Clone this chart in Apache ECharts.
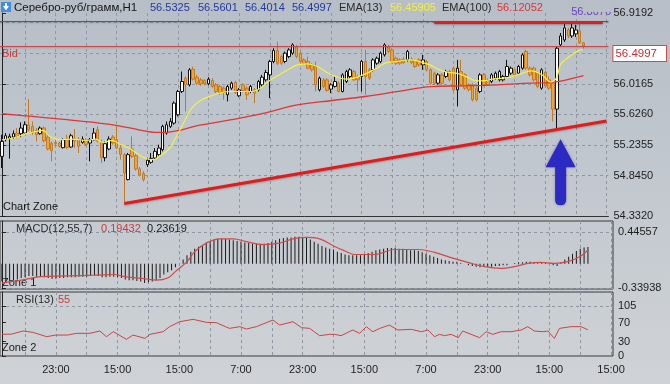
<!DOCTYPE html>
<html><head><meta charset="utf-8">
<script src="https://cdn.jsdelivr.net/npm/echarts@6/dist/echarts.min.js"></script>
<style>html,body{margin:0;padding:0;background:linear-gradient(#b7bec7,#cfd3d7);}#c{width:670px;height:384px;}</style>
</head><body><div id="c"></div><script>
// ---- data ----
const openP = [55.092,55.304,55.321,55.338,55.389,55.381,55.389,55.495,55.474,55.423,
55.381,55.453,55.338,55.254,55.270,55.262,55.203,55.313,55.211,55.321,
55.304,55.270,55.304,55.262,55.304,55.432,55.270,55.075,55.186,55.338,
55.304,55.198,55.114,54.796,55.186,55.101,54.931,54.872,54.986,55.016,
55.071,55.113,55.177,55.389,55.474,55.516,55.622,55.919,56.089,56.004,
56.203,56.101,56.067,56.059,56.017,56.059,56.004,55.983,55.961,55.877,
55.961,56.034,55.864,56.004,55.961,55.919,55.940,55.940,56.004,56.067,
56.131,56.301,56.441,56.364,56.301,56.364,56.407,56.491,56.407,56.322,
56.301,56.258,56.237,55.940,56.067,56.067,55.949,55.983,56.025,55.919,
56.046,56.110,56.173,56.110,56.110,56.301,56.195,56.195,56.279,56.301,
56.386,56.491,56.449,56.343,56.322,56.331,56.322,56.331,56.313,56.322,
56.258,56.301,56.195,56.152,56.025,56.131,56.110,56.173,56.216,55.940,
56.173,56.131,56.004,56.004,55.961,55.919,56.131,56.067,56.046,56.089,
56.067,56.067,56.110,56.152,56.195,56.152,56.216,56.428,56.216,56.216,
56.152,55.961,56.161,56.067,56.025,55.694,56.513,56.576,56.703,56.627,
56.653,56.691,56.538];
const closeP = [55.283,55.355,55.347,55.381,55.347,55.453,55.495,55.432,55.398,55.368,
55.453,55.292,55.186,55.165,55.254,55.220,55.304,55.207,55.355,55.287,
55.220,55.313,55.245,55.304,55.389,55.287,55.075,55.254,55.313,55.262,
55.198,55.118,54.880,55.114,55.092,54.931,54.859,54.796,55.042,55.067,
55.156,55.198,55.474,55.495,55.537,55.771,55.919,56.046,56.004,56.195,
56.076,56.025,56.017,56.017,56.076,55.983,55.919,55.906,55.906,55.983,
56.025,55.906,55.940,55.932,55.877,55.983,55.898,56.046,56.101,56.161,
56.301,56.441,56.279,56.279,56.407,56.449,56.513,56.364,56.301,56.279,
56.216,56.195,56.004,56.089,55.983,55.932,56.004,56.046,55.919,56.131,
56.173,56.195,56.067,56.067,56.301,56.110,56.089,56.322,56.343,56.407,
56.513,56.428,56.301,56.279,56.279,56.288,56.428,56.288,56.237,56.258,
56.322,56.195,56.025,56.025,56.131,56.025,56.173,56.067,55.940,56.216,
56.004,55.961,55.940,55.813,55.813,56.131,56.004,56.004,56.131,56.152,
56.173,56.110,56.237,56.216,56.131,56.237,56.385,56.216,56.131,56.067,
55.983,56.195,55.991,55.961,55.694,56.470,56.627,56.729,56.627,56.729,
56.703,56.538,56.4997];
const lowP = [54.944,55.283,55.063,55.313,55.321,55.338,55.381,55.410,55.368,55.283,
55.368,55.270,55.169,55.029,55.228,55.203,55.194,55.186,55.203,55.198,
55.135,55.254,55.228,55.029,55.296,55.270,55.008,55.029,55.169,55.241,
55.186,55.050,54.490,54.787,55.071,54.910,54.838,54.770,54.957,54.999,
55.050,55.092,55.156,55.368,55.453,55.495,55.601,55.898,55.665,55.983,
56.059,56.004,55.991,56.000,56.000,55.966,55.898,55.877,55.813,55.792,
55.940,55.889,55.847,55.906,55.813,55.898,55.771,55.919,55.983,56.046,
55.834,56.279,56.258,56.258,56.279,56.343,56.386,56.343,56.279,56.258,
56.203,56.173,55.919,55.919,55.961,55.919,55.898,55.970,55.906,55.906,
56.025,56.089,56.055,55.919,55.919,55.877,56.067,56.173,56.258,56.279,
56.364,56.407,56.279,56.258,56.258,56.271,56.301,56.271,56.216,56.237,
56.195,56.173,56.004,56.004,56.004,56.004,56.089,56.046,55.919,55.728,
55.983,55.940,55.919,55.792,55.792,55.898,55.983,55.991,56.025,56.067,
56.046,56.046,56.089,56.131,56.110,56.131,56.195,56.195,56.110,56.046,
55.961,55.940,55.974,55.940,55.537,55.453,56.487,56.551,56.602,56.602,
56.614,56.525,56.449];
const highP = [55.368,55.389,55.381,55.423,55.453,55.525,55.538,55.822,55.538,55.453,
55.474,55.474,55.381,55.283,55.313,55.279,55.321,55.368,55.381,55.440,
55.338,55.347,55.321,55.326,55.453,55.474,55.304,55.283,55.347,55.364,
55.482,55.228,55.135,55.135,55.347,55.126,54.957,54.902,55.071,55.135,
55.198,55.241,55.495,55.537,55.580,55.792,55.940,56.173,56.110,56.216,
56.237,56.131,56.089,56.076,56.101,56.089,56.025,56.004,55.983,56.004,
56.046,56.055,55.961,56.025,55.983,56.004,55.961,56.067,56.131,56.195,
56.322,56.470,56.555,56.386,56.428,56.470,56.534,56.513,56.428,56.343,
56.364,56.279,56.301,56.110,56.089,56.089,56.025,56.110,56.046,56.152,
56.195,56.216,56.195,56.131,56.322,56.449,56.216,56.343,56.364,56.428,
56.534,56.513,56.470,56.364,56.343,56.356,56.449,56.356,56.331,56.343,
56.386,56.322,56.216,56.173,56.152,56.152,56.195,56.195,56.237,56.322,
56.322,56.152,56.025,56.025,55.983,56.152,56.152,56.089,56.152,56.173,
56.195,56.131,56.322,56.237,56.216,56.258,56.407,56.449,56.237,56.237,
56.173,56.216,56.182,56.110,56.046,56.491,56.665,56.805,56.729,56.780,
56.767,56.805,56.551];
const ema13 = [[0,55.304],[3,55.326],[6.4,55.381],[9,55.41],[10.7,55.423],[12.5,55.346],[15,55.304],[18.5,55.313],[22,55.295],[24.5,55.313],[26.3,55.27],[28.9,55.295],[30.6,55.253],[33.2,55.199],[35.8,55.113],[37.9,55.062],[39.7,55.05],[41,55.092],[43.5,55.177],[46.1,55.389],[47.9,55.559],[49.6,55.707],[52.2,55.813],[54.8,55.864],[57.4,55.906],[60,55.919],[62.5,55.919],[65.1,55.919],[66.9,55.94],[68.6,56.004],[70.3,56.067],[72.9,56.144],[75.5,56.216],[77.5,56.262],[79.8,56.271],[82.4,56.237],[85,56.16],[87.6,56.102],[90.2,56.076],[92.8,56.102],[95.4,56.153],[97.9,56.216],[100.5,56.287],[103.1,56.3],[106.6,56.322],[109.2,56.3],[111.8,56.258],[114.4,56.195],[117,56.16],[118.7,56.153],[121.3,56.109],[123.9,56.058],[125.6,56.055],[128.2,56.076],[130.8,56.089],[133.4,56.109],[136,56.153],[138.5,56.182],[141.1,56.131],[143.5,56.04],[145,56.1],[145.9,56.258],[147.2,56.322],[148.9,56.385],[150.6,56.44],[152,56.459]];
const ema100 = [[0,55.635],[8,55.601],[17,55.559],[25.4,55.517],[30.6,55.482],[35.8,55.431],[40.1,55.397],[42.7,55.397],[47,55.431],[51.3,55.486],[60,55.559],[68.6,55.644],[77.2,55.749],[86.3,55.804],[94.9,55.855],[103.6,55.919],[112.2,55.982],[120.8,55.991],[129.5,56.004],[138.1,56.025],[143.3,56.033],[146.7,56.058],[152,56.121]];
const macdHist = [-0.25,-0.25,-0.24,-0.23,
-0.22,-0.2,-0.19,-0.17,-0.17,-0.18,-0.18,
-0.19,-0.2,-0.21,-0.21,-0.2,-0.2,-0.19,-0.19,-0.19,-0.18,
-0.18,-0.18,-0.17,-0.16,-0.17,-0.19,-0.19,-0.18,
-0.18,-0.19,-0.2,-0.22,-0.23,-0.23,-0.24,-0.25,-0.27,-0.26,
-0.25,-0.23,-0.2,-0.15,-0.12,-0.09,-0.05,
0.0,0.06,0.12,0.17,0.21,0.24,0.26,
0.3,0.32,0.34,0.35,0.35,0.35,0.34,0.33,
0.32,0.31,0.3,0.29,0.28,0.28,0.28,0.28,0.29,0.31,
0.33,0.35,0.36,0.37,0.37,0.38,0.38,0.37,0.36,0.34,
0.31,0.28,0.25,0.23,0.21,
0.2,0.17,0.15,0.13,
0.12,0.12,0.12,0.12,0.13,0.15,0.17,0.19,
0.2,0.21,0.22,0.22,0.22,0.21,0.21,0.2,0.19,0.19,
0.18,0.16,0.14,0.12,0.1,0.08,0.06,0.05,0.04,
0.03,0.03,0.01,0.0,-0.02,-0.03,
-0.04,-0.05,-0.04,-0.04,-0.04,-0.03,-0.03,-0.02,-0.02,0.0,0.01,
0.02,0.02,0.03,0.03,0.02,0.02,0.01,0.01,0.0,-0.02,
-0.03,0.02,0.06,0.1,0.14,0.18,0.21,0.23,0.236];
const macdSignal = [[0,-0.27],[5,-0.23],[10,-0.18],[17,-0.17],[24,-0.16],[29,-0.15],[32,-0.18],[37,-0.21],[40,-0.23],[43,-0.2],[45,-0.11],[48,0.03],[50,0.17],[53,0.29],[56.5,0.35],[60,0.35],[63.4,0.31],[67.7,0.27],[72,0.29],[75.5,0.35],[79,0.37],[82.4,0.35],[86,0.25],[89,0.18],[91.5,0.13],[96.7,0.13],[101.8,0.2],[107.9,0.2],[112.2,0.16],[116.5,0.086],[120.8,0.02],[125.2,-0.04],[129.5,-0.064],[132.9,-0.04],[136.4,0.006],[139.8,0.02],[143.3,0.006],[146.7,0.03],[150.2,0.11],[152,0.194]];
const rsi = [[0,45.5],[2.5,46],[5.5,52.5],[8,49.7],[11.6,40.6],[14,44],[17,44],[19.4,47.6],[22.8,47.6],[25.4,52.5],[27.1,40.6],[28.9,51],[32.3,35],[34,44],[37.1,37],[38.4,45.5],[41.8,51],[43.5,61.6],[46.1,72],[49.6,77],[53,70.7],[55.6,70],[59,58],[61.7,61.6],[63.4,56.7],[66,61.6],[70.3,75.6],[72,65],[75.5,72],[77.7,59.5],[79.8,58],[82.4,42.7],[85,45.5],[86.3,45.5],[88,42.7],[91,54.6],[92.8,47.6],[94.5,61.6],[96.2,51],[98,58],[100.5,65],[102.7,54.6],[106.2,56],[108.8,51],[110.5,54.6],[112.2,40.6],[113.5,45.5],[114.8,42.7],[116.5,45.5],[118.4,38.5],[119.5,52.5],[121.7,45.5],[123.9,38.5],[125.6,51],[127.3,45.5],[129.5,51],[132,51],[134.7,54.6],[136.4,61.6],[138.1,52.5],[140.3,51],[141.6,52.5],[143.3,37],[144.6,58],[147.6,61.6],[150.2,61.6],[152,55]];
const timeLabels = ['23:00','15:00','15:00','7:00','23:00','15:00','7:00','23:00','15:00','15:00'];
const labelBars = [14,30,46,62,78,94,110,126,142,158];
const priceLabels = [54.332,54.845,55.2355,55.626,56.0165,56.9192];
const priceGrid = [54.845,55.2355,55.626,56.0165,56.407,56.7975];
const macdLabels = [-0.33938,0.44557];
const rsiLabels = [0,30,70,105];
const bidPrice = 56.4997, askLevel = 56.8076;
const trendLine = [[32,54.49],[158,55.542]];
const resistLine = [[113,56.8076],[157,56.8076]];
const arrowAt = [146,54.89];
const header = {symbol:'Серебро-руб/грамм,H1', ohlc:['56.5325','56.5601','56.4014','56.4997'], ema13:'56.45905', ema100:'56.12052', macd:['0.19432','0.23619'], rsi:'55'};

// ---- chart ----
const NB = 159;
const cats = Array.from({length:NB},(_,i)=>String(i));
const gridBars = []; labelBars.forEach(b=>{gridBars.push(b-8, b);});
const F = 'Liberation Sans';
const dash = {show:true, lineStyle:{type:[3,3], color:'#8e97a2', width:1}};
const hid = {show:false};
function valX(g, labels){
  return {type:'value', gridIndex:g, min:-0.5, max:NB-0.5, axisLine:hid,
    axisTick:{show:false, customValues:gridBars},
    axisLabel: labels ? {customValues:labelBars, formatter:v=>timeLabels[labelBars.indexOf(Math.round(v))]||'', color:'#1e1e1e', fontSize:11, fontFamily:F, margin:8} : hid,
    splitLine:dash};
}
function catX(g, line){
  return {type:'category', gridIndex:g, data:cats, boundaryGap:true, axisLine: line?{show:true,lineStyle:{color:'#333'}}:hid, axisTick:hid, axisLabel:hid, splitLine:hid};
}
const main = {min:54.332, max:56.9192};
const macdR = {min:-0.3534, max:0.5998};
const rsiR = {min:0, max:134.4};
const lblStyle = {color:'#1e1e1e', fontSize:11, fontFamily:F, margin:5};
const arrowPath = 'path://M15 0 L30 28 L20.5 28 L20.5 61 Q20.5 66 15 66 Q9.5 66 9.5 61 L9.5 28 L0 28 Z';

const chart = echarts.init(document.getElementById('c'), null, {renderer:'canvas'});
chart.setOption({
  animation:false,
  backgroundColor:'transparent',
  grid:[
    {left:0, right:57, top:13, height:203, show:false},
    {left:0, right:57, top:221, height:68, show:true, borderColor:'#3a3a3a', borderWidth:1, backgroundColor:'transparent'},
    {left:0, right:57, top:292, height:64, show:true, borderColor:'#3a3a3a', borderWidth:1, backgroundColor:'transparent'}
  ],
  xAxis:[catX(0,true), valX(0,false), catX(1,false), valX(1,false), valX(2,true)],
  yAxis:[
    {type:'value', gridIndex:0, position:'right', min:main.min, max:main.max,
      axisLine:{show:true, lineStyle:{color:'#222'}},
      axisTick:{show:true, length:4, customValues:priceLabels, lineStyle:{color:'#222'}},
      axisLabel:Object.assign({customValues:priceLabels, formatter:v=>v.toFixed(4)}, lblStyle), splitLine:hid},
    {type:'value', gridIndex:0, position:'right', min:main.min, max:main.max, axisLine:hid,
      axisTick:{show:false, customValues:priceGrid}, axisLabel:hid, splitLine:dash},
    {type:'value', gridIndex:0, position:'right', min:main.min, max:main.max, axisLine:hid,
      axisTick:{show:false, customValues:[bidPrice]}, splitLine:hid,
      axisLabel:{customValues:[bidPrice], verticalAlign:'top', margin:5, formatter:v=>'{b|'+v.toFixed(4)+'}',
        rich:{b:{backgroundColor:'#ffffff', borderColor:'#d04848', borderWidth:1, padding:[2,9,1,2], color:'#c23030', fontSize:11.5, fontFamily:F}}}},
    {type:'value', gridIndex:1, position:'right', min:macdR.min, max:macdR.max,
      axisLine:{show:true, lineStyle:{color:'#222'}},
      axisTick:{show:true, length:4, customValues:macdLabels, lineStyle:{color:'#222'}},
      axisLabel:Object.assign({customValues:macdLabels, formatter:v=>v.toFixed(5)}, lblStyle),
      splitLine:dash},
    {type:'value', gridIndex:2, position:'right', min:rsiR.min, max:rsiR.max,
      axisLine:{show:true, lineStyle:{color:'#222'}},
      axisTick:{show:true, length:4, customValues:rsiLabels, lineStyle:{color:'#222'}},
      axisLabel:Object.assign({customValues:rsiLabels, formatter:v=>String(v)}, lblStyle), splitLine:hid},
    {type:'value', gridIndex:2, position:'right', min:rsiR.min, max:rsiR.max, axisLine:hid,
      axisTick:{show:false, customValues:[105]}, axisLabel:hid, splitLine:dash}
  ],
  series:[
    {type:'candlestick', xAxisIndex:0, yAxisIndex:0, barWidth:3,
      data: openP.map((o,i)=>[o, closeP[i], lowP[i], highP[i]]),
      itemStyle:{color:'#ffffff', color0:'#f0a52e', borderColor:'#111111', borderColor0:'#c27a26', borderWidth:1},
      markLine:{silent:true, symbol:['none','none'], label:{show:false}, animation:false,
        data:[
          {yAxis:bidPrice, lineStyle:{color:'#c94848', width:1, type:'solid'}},
          {yAxis:askLevel, lineStyle:{color:'#6b42b8', width:1, type:'solid'}},
          [{coord:trendLine[0]},{coord:trendLine[1]}],
          [{coord:resistLine[0]},{coord:resistLine[1]}]
        ],
        lineStyle:{color:'#e01c1c', width:3, type:'solid', shadowColor:'rgba(0,0,0,0.25)', shadowBlur:2, shadowOffsetY:1}},
      markPoint:{silent:true, data:[{coord:arrowAt, symbol:arrowPath, symbolSize:[30,66],
        itemStyle:{color:'#2b2bc4', shadowColor:'rgba(0,0,60,0.35)', shadowBlur:3}, label:{show:false}}]}
    },
    {type:'line', xAxisIndex:1, yAxisIndex:0, data:ema100, smooth:0.4, symbol:'none', lineStyle:{color:'#e03636', width:1.3}},
    {type:'line', xAxisIndex:1, yAxisIndex:0, data:ema13, smooth:0.4, symbol:'none', lineStyle:{color:'#f4f23e', width:1.2}},
    {type:'bar', xAxisIndex:2, yAxisIndex:3, data:macdHist, barWidth:1, itemStyle:{color:'#1a1a1a'}},
    {type:'line', xAxisIndex:3, yAxisIndex:3, data:macdSignal, smooth:0.4, symbol:'none', lineStyle:{color:'#d04a4a', width:1.2}},
    {type:'line', xAxisIndex:4, yAxisIndex:5, data:rsi, symbol:'none', lineStyle:{color:'#c84444', width:1}}
  ],
  graphic:[
    {type:'rect', left:585, top:0, shape:{width:28, height:12}, style:{fill:'#b8bfc7'}, z:50},
    {type:'text', right:59, top:6, style:{text:'56.8076', fill:'#6b42c4', font:'11px '+F}, z:49},
    {type:'rect', left:1, top:2, shape:{width:10, height:10}, style:{fill:'#3d8fe6'}, z:60},
    {type:'polygon', shape:{points:[[3,6],[9,6],[6,10.5]]}, style:{fill:'#fff'}, z:61},
    {type:'rect', left:5, top:3, shape:{width:2, height:3}, style:{fill:'#fff'}, z:61},
    {type:'text', left:14, top:2, style:{text:header.symbol, fill:'#151515', font:'11.5px '+F}, z:60},
    {type:'text', left:150, top:2, style:{text:header.ohlc[0], fill:'#233a9c', font:'11px '+F}, z:60},
    {type:'text', left:198, top:2, style:{text:header.ohlc[1], fill:'#233a9c', font:'11px '+F}, z:60},
    {type:'text', left:245, top:2, style:{text:header.ohlc[2], fill:'#233a9c', font:'11px '+F}, z:60},
    {type:'text', left:292, top:2, style:{text:header.ohlc[3], fill:'#233a9c', font:'11px '+F}, z:60},
    {type:'text', left:339, top:2, style:{text:'EMA(13)', fill:'#2a2a2a', font:'11px '+F}, z:60},
    {type:'text', left:390, top:2, style:{text:header.ema13, fill:'#f2f034', font:'11px '+F}, z:60},
    {type:'text', left:442, top:2, style:{text:'EMA(100)', fill:'#2a2a2a', font:'11px '+F}, z:60},
    {type:'text', left:497, top:2, style:{text:header.ema100, fill:'#e03434', font:'11px '+F}, z:60},
    {type:'text', left:2, top:48, style:{text:'Bid', fill:'#c43c3c', font:'11px '+F}, z:60},
    {type:'text', left:3, top:201, style:{text:'Chart Zone', fill:'#151515', font:'11px '+F}, z:60},
    {type:'text', left:16, top:223, style:{text:'MACD(12,55,7)', fill:'#2a2a2a', font:'11px '+F}, z:60},
    {type:'text', left:101, top:223, style:{text:header.macd[0], fill:'#cc3a3a', font:'11px '+F}, z:60},
    {type:'text', left:147, top:223, style:{text:header.macd[1], fill:'#1a1a1a', font:'11px '+F}, z:60},
    {type:'text', left:2, top:277, style:{text:'Zone 1', fill:'#1a1a1a', font:'11px '+F}, z:0},
    {type:'text', left:16, top:294, style:{text:'RSI(13)', fill:'#2a2a2a', font:'11px '+F}, z:60},
    {type:'text', left:58, top:294, style:{text:header.rsi, fill:'#cc3a3a', font:'11px '+F}, z:60},
    {type:'text', left:2, top:342, style:{text:'Zone 2', fill:'#1a1a1a', font:'11px '+F}, z:60}
  ]
});
</script></body></html>
